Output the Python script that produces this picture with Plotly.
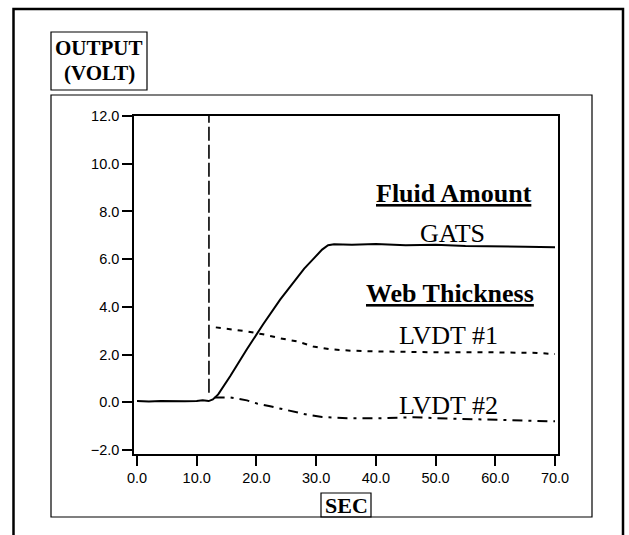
import plotly.graph_objects as go

# ---- data ----
gats_t = [0, 2, 4, 6, 8, 10, 11, 12, 12.7, 13.6, 15.6, 18.4, 21.1, 24.0, 26.1, 28.0, 29.5, 31.0,
          32.0, 33, 36, 40, 45, 50, 55, 60, 65, 70]
gats_v = [0.05, 0.03, 0.05, 0.03, 0.04, 0.05, 0.08, 0.05, 0.12, 0.33, 1.09, 2.22, 3.26, 4.31,
          5.0, 5.6, 6.0, 6.4, 6.58, 6.62, 6.6, 6.63, 6.58, 6.6, 6.55, 6.55, 6.52, 6.5]

lvdt1_t = [13.2, 16, 18.4, 21.1, 24, 26.8, 29.5, 32.3, 36, 40.7, 46, 51.9, 57, 63, 67, 70]
lvdt1_v = [3.14, 3.05, 2.97, 2.85, 2.68, 2.55, 2.34, 2.22, 2.16, 2.13, 2.1, 2.09, 2.1, 2.09, 2.07, 2.02]

lvdt2_t = [13.0, 15.6, 18.4, 20.1, 22.3, 25.3, 28.5, 31, 35.2, 40.7, 46.3, 52, 57.5, 63, 70]
lvdt2_v = [0.2, 0.2, 0.08, -0.05, -0.17, -0.35, -0.52, -0.62, -0.67, -0.67, -0.63, -0.68,
           -0.71, -0.75, -0.8]

trigger_t = [12.05, 12.05]
trigger_v = [12.3, 0.33]

x_ticks = [0, 10, 20, 30, 40, 50, 60, 70]
y_ticks = [-2, 0, 2, 4, 6, 8, 10, 12]

# ---- layout geometry (pixels) ----
W, H = 629, 535
PL, PR, PT, PB = 134, 558, 116, 454


def px(x):
    return (x - PL) / (PR - PL)


def py(y):
    return (PB - y) / (PB - PT)


SERIF = "Liberation Serif"
SANS = "Liberation Sans"

fig = go.Figure()
line_style = dict(color="black", width=2)
fig.add_trace(go.Scatter(x=gats_t, y=gats_v, mode="lines", line=dict(**line_style, dash="solid")))
fig.add_trace(go.Scatter(x=lvdt1_t, y=lvdt1_v, mode="lines", line=dict(**line_style, dash="5px,6px")))
fig.add_trace(go.Scatter(x=lvdt2_t, y=lvdt2_v, mode="lines",
                         line=dict(**line_style, dash="10px,6px,3px,6px")))
fig.add_trace(go.Scatter(x=trigger_t, y=trigger_v, mode="lines",
                         line=dict(color="black", width=1.6, dash="14px,4px")))

shapes = [
    # outer border
    dict(type="rect", xref="paper", yref="paper", x0=px(13.5), x1=px(623), y0=py(545), y1=py(9),
         line=dict(color="black", width=2.5)),
    # inner frame
    dict(type="rect", xref="paper", yref="paper", x0=px(51), x1=px(592), y0=py(517), y1=py(95),
         line=dict(color="black", width=1.2)),
    # OUTPUT box
    dict(type="rect", xref="paper", yref="paper", x0=px(51), x1=px(147), y0=py(90), y1=py(32),
         line=dict(color="black", width=1.2)),
    # SEC box
    dict(type="rect", xref="paper", yref="paper", x0=px(321), x1=px(371), y0=py(517), y1=py(493),
         line=dict(color="black", width=1.2)),
]

ann = []


def add_text(text, x, y, size, bold=False):
    ann.append(dict(text=(f"<b>{text}</b>" if bold else text), xref="paper", yref="paper",
                    x=px(x), y=py(y), xanchor="center", yanchor="middle", showarrow=False,
                    font=dict(family=SERIF, size=size, color="black")))


add_text("OUTPUT", 99, 48, 21, bold=True)
add_text("(VOLT)", 99, 73, 21, bold=True)
add_text("SEC", 346, 506, 22, bold=True)
add_text("<u>Fluid Amount</u>", 454, 193, 26, bold=True)
add_text("GATS", 452, 233, 26)
add_text("<u>Web Thickness</u>", 450, 293, 26, bold=True)
add_text("LVDT #1", 448, 335, 26)
add_text("LVDT #2", 448, 405, 26)

axis_common = dict(showline=True, mirror=True, linecolor="black", linewidth=1.5,
                   ticks="outside", ticklen=10, tickwidth=1.5, tickcolor="black",
                   showgrid=False, zeroline=False, tickformat=".1f",
                   tickfont=dict(family=SANS, size=14.5, color="black"))

fig.update_layout(
    width=W, height=H, autosize=False,
    margin=dict(l=PL, r=W - PR, t=PT, b=H - PB, pad=0),
    paper_bgcolor="white", plot_bgcolor="white",
    showlegend=False,
    xaxis=dict(range=[-0.502, 70.502], tickvals=x_ticks, **axis_common),
    yaxis=dict(range=[-2.168, 12.0], tickvals=y_ticks, **axis_common),
    shapes=shapes,
    annotations=ann,
)

fig.write_html("out.html")
